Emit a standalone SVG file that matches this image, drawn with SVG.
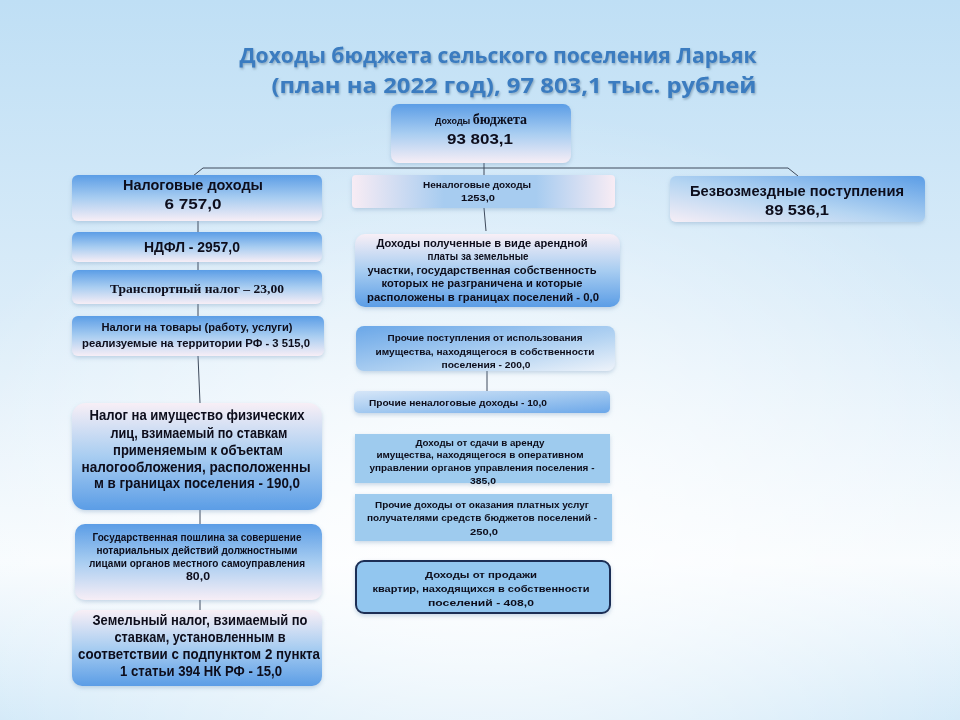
<svg xmlns="http://www.w3.org/2000/svg" width="960" height="720" viewBox="0 0 960 720">
<defs>
  <linearGradient id="bg" x1="0" y1="0" x2="0" y2="1">
    <stop offset="0" stop-color="#bfdff5"/>
    <stop offset="0.45" stop-color="#dcedf9"/>
    <stop offset="0.78" stop-color="#f7fbfe"/>
    <stop offset="1" stop-color="#d2e9f8"/>
  </linearGradient>
  <radialGradient id="bgGlow" cx="0.5" cy="0.75" r="0.6">
    <stop offset="0" stop-color="#ffffff" stop-opacity="0.9"/>
    <stop offset="1" stop-color="#ffffff" stop-opacity="0"/>
  </radialGradient>
  <linearGradient id="gTop" x1="0" y1="0" x2="0" y2="1">
    <stop offset="0" stop-color="#5b9de6"/>
    <stop offset="0.5" stop-color="#a8cdf1"/>
    <stop offset="1" stop-color="#f7eef6"/>
  </linearGradient>
  <linearGradient id="gBot" x1="0" y1="0" x2="0" y2="1">
    <stop offset="0" stop-color="#f8eff6"/>
    <stop offset="0.5" stop-color="#a8cdf1"/>
    <stop offset="1" stop-color="#5b9de6"/>
  </linearGradient>
  <linearGradient id="gH" x1="0" y1="0" x2="1" y2="0">
    <stop offset="0" stop-color="#f8ecf4"/>
    <stop offset="0.35" stop-color="#a7ccf0"/>
    <stop offset="0.7" stop-color="#a7ccf0"/>
    <stop offset="1" stop-color="#f8ecf4"/>
  </linearGradient>
  <linearGradient id="gLR" x1="0" y1="0" x2="1" y2="1">
    <stop offset="0" stop-color="#d6e6f8"/>
    <stop offset="0.5" stop-color="#a3c9f0"/>
    <stop offset="1" stop-color="#6ba7e9"/>
  </linearGradient>
  <linearGradient id="gDiag" x1="1" y1="0" x2="0" y2="1">
    <stop offset="0" stop-color="#5b9de6"/>
    <stop offset="0.55" stop-color="#b5d5f2"/>
    <stop offset="1" stop-color="#f6eef6"/>
  </linearGradient>
  <linearGradient id="gLeft" x1="0" y1="0" x2="1" y2="1">
    <stop offset="0" stop-color="#6aa7e8"/>
    <stop offset="0.6" stop-color="#b3d3f2"/>
    <stop offset="1" stop-color="#eef3fa"/>
  </linearGradient>
  <filter id="sh" x="-10%" y="-10%" width="120%" height="130%">
    <feDropShadow dx="0" dy="2" stdDeviation="2" flood-color="#6d93b8" flood-opacity="0.35"/>
  </filter>
  <filter id="tsh" x="-5%" y="-20%" width="110%" height="150%">
    <feDropShadow dx="1" dy="1.5" stdDeviation="0.8" flood-color="#5f7f98" flood-opacity="0.6"/>
  </filter>
</defs>
<style>
  .t { font-family: "Liberation Sans", Arial, sans-serif; font-weight: bold; fill: #0d0d1a; }
  .c { text-anchor: middle; }
  .s { font-family: "Liberation Serif", "Times New Roman", serif; font-weight: bold; fill: #0d0d1a; }
  .title { font-family: "Open Sans", "Liberation Sans", sans-serif; font-weight: bold; font-size: 21px; fill: #3a7cc0; text-anchor: middle; }
  .conn { stroke: #3e4a5c; stroke-width: 1; fill: none; }
  .box { filter: url(#sh); }
</style>

<rect width="960" height="720" fill="url(#bg)"/>
<rect width="960" height="720" fill="url(#bgGlow)"/>

<g id="title" filter="url(#tsh)">
  <text class="title" x="498" y="63" textLength="517" lengthAdjust="spacingAndGlyphs">Доходы бюджета сельского поселения  Ларьяк</text>
  <text class="title" x="514" y="93" textLength="485" lengthAdjust="spacingAndGlyphs">(план на 2022 год),  97 803,1 тыс. рублей</text>
</g>

<g id="connectors">
  <path class="conn" d="M484 162 L484 168"/>
  <path class="conn" d="M193 176 L203 168 L788 168 L798 176"/>
  <path class="conn" d="M484 168 L484 176"/>
  <path class="conn" d="M198 221 L198 232"/>
  <path class="conn" d="M198 262 L198 270"/>
  <path class="conn" d="M198 304 L198 316"/>
  <path class="conn" d="M198 356 L200 403"/>
  <path class="conn" d="M200 510 L200 524"/>
  <path class="conn" d="M200 600 L200 610"/>
  <path class="conn" d="M484 208 L486 231"/>
  <path class="conn" d="M487 371 L487 391"/>
</g>

<g id="n-root" class="box">
  <rect x="391" y="104" width="180" height="59" rx="8" fill="url(#gTop)"/>
  <text class="c" x="481" y="124"><tspan class="t" font-size="9">Доходы </tspan><tspan class="s" font-size="14">бюджета</tspan></text>
  <text class="t c" x="480" y="144" font-size="15" textLength="66" lengthAdjust="spacingAndGlyphs">93 803,1</text>
</g>

<g id="n-tax" class="box">
  <rect x="72" y="175" width="250" height="46" rx="6" fill="url(#gTop)"/>
  <text class="t c" x="193" y="190" font-size="14" textLength="140" lengthAdjust="spacingAndGlyphs">Налоговые доходы</text>
  <text class="t c" x="193" y="209" font-size="15" textLength="57" lengthAdjust="spacingAndGlyphs">6 757,0</text>
</g>

<g id="n-ndfl" class="box">
  <rect x="72" y="232" width="250" height="30" rx="6" fill="url(#gTop)"/>
  <text class="t c" x="192" y="252" font-size="14" textLength="96" lengthAdjust="spacingAndGlyphs">НДФЛ - 2957,0</text>
</g>

<g id="n-transport" class="box">
  <rect x="72" y="270" width="250" height="34" rx="6" fill="url(#gTop)"/>
  <text class="s c" x="197" y="293" font-size="13" textLength="174" lengthAdjust="spacingAndGlyphs">Транспортный  налог – 23,00</text>
</g>

<g id="n-goods" class="box">
  <rect x="72" y="316" width="252" height="40" rx="6" fill="url(#gTop)"/>
  <text class="t c" x="197" y="331" font-size="11" textLength="191" lengthAdjust="spacingAndGlyphs">Налоги на товары  (работу,  услуги)</text>
  <text class="t c" x="196" y="347" font-size="11" textLength="228" lengthAdjust="spacingAndGlyphs">реализуемые на территории РФ - 3 515,0</text>
</g>

<g id="n-property" class="box">
  <rect x="72" y="403" width="250" height="107" rx="14" fill="url(#gBot)"/>
  <text class="t c" x="197" y="420" font-size="14" textLength="215" lengthAdjust="spacingAndGlyphs">Налог на имущество физических</text>
  <text class="t c" x="199" y="438" font-size="14" textLength="177" lengthAdjust="spacingAndGlyphs">лиц, взимаемый по ставкам</text>
  <text class="t c" x="198" y="455" font-size="14" textLength="170" lengthAdjust="spacingAndGlyphs">применяемым к объектам</text>
  <text class="t c" x="196" y="472" font-size="14" textLength="229" lengthAdjust="spacingAndGlyphs">налогообложения, расположенны</text>
  <text class="t c" x="197" y="488" font-size="14" textLength="206" lengthAdjust="spacingAndGlyphs">м в границах поселения - 190,0</text>
</g>

<g id="n-duty" class="box">
  <rect x="75" y="524" width="247" height="76" rx="10" fill="url(#gTop)"/>
  <text class="t c" x="197" y="541" font-size="10" textLength="209" lengthAdjust="spacingAndGlyphs">Государственная пошлина за совершение</text>
  <text class="t c" x="197" y="554" font-size="10" textLength="201" lengthAdjust="spacingAndGlyphs">нотариальных действий должностными</text>
  <text class="t c" x="197" y="567" font-size="10" textLength="216" lengthAdjust="spacingAndGlyphs">лицами органов местного самоуправления</text>
  <text class="t c" x="198" y="580" font-size="10" textLength="24" lengthAdjust="spacingAndGlyphs">80,0</text>
</g>

<g id="n-land" class="box">
  <rect x="72" y="610" width="250" height="76" rx="10" fill="url(#gBot)"/>
  <text class="t c" x="200" y="625" font-size="14" textLength="215" lengthAdjust="spacingAndGlyphs">Земельный налог, взимаемый по</text>
  <text class="t c" x="200" y="642" font-size="14" textLength="171" lengthAdjust="spacingAndGlyphs">ставкам, установленным в</text>
  <text class="t c" x="199" y="659" font-size="14" textLength="242" lengthAdjust="spacingAndGlyphs">соответствии с подпунктом 2 пункта</text>
  <text class="t c" x="201" y="676" font-size="14" textLength="162" lengthAdjust="spacingAndGlyphs">1 статьи 394 НК РФ - 15,0</text>
</g>

<g id="n-nontax" class="box">
  <rect x="352" y="175" width="263" height="33" rx="4" fill="url(#gH)"/>
  <text class="t c" x="477" y="188" font-size="9" textLength="108" lengthAdjust="spacingAndGlyphs">Неналоговые доходы</text>
  <text class="t c" x="478" y="201" font-size="9" textLength="34" lengthAdjust="spacingAndGlyphs">1253,0</text>
</g>

<g id="n-rent-land" class="box">
  <rect x="355" y="234" width="265" height="73" rx="10" fill="url(#gBot)"/>
  <text class="t c" x="482" y="247" font-size="10.5" textLength="211" lengthAdjust="spacingAndGlyphs">Доходы полученные в виде арендной</text>
  <text class="t c" x="478" y="260" font-size="10.5" textLength="101" lengthAdjust="spacingAndGlyphs">платы за земельные</text>
  <text class="t c" x="482" y="274" font-size="10.5" textLength="229" lengthAdjust="spacingAndGlyphs">участки, государственная собственность</text>
  <text class="t c" x="482" y="287" font-size="10.5" textLength="201" lengthAdjust="spacingAndGlyphs">которых не разграничена и которые</text>
  <text class="t c" x="483" y="301" font-size="10.5" textLength="232" lengthAdjust="spacingAndGlyphs">расположены в границах поселений - 0,0</text>
</g>

<g id="n-other-use" class="box">
  <rect x="356" y="326" width="259" height="45" rx="8" fill="url(#gLeft)"/>
  <text class="t c" x="485" y="341" font-size="9.5" textLength="195" lengthAdjust="spacingAndGlyphs">Прочие поступления от использования</text>
  <text class="t c" x="485" y="355" font-size="9.5" textLength="219" lengthAdjust="spacingAndGlyphs">имущества, находящегося в собственности</text>
  <text class="t c" x="486" y="368" font-size="9.5" textLength="89" lengthAdjust="spacingAndGlyphs">поселения - 200,0</text>
</g>

<g id="n-other-nontax" class="box">
  <rect x="354" y="391" width="256" height="22" rx="5" fill="url(#gLR)"/>
  <text class="t" x="369" y="406" font-size="9.5" textLength="178" lengthAdjust="spacingAndGlyphs">Прочие неналоговые доходы - 10,0</text>
</g>

<g id="n-lease" class="box">
  <rect x="355" y="434" width="255" height="49" fill="#9ecbee"/>
  <text class="t c" x="480" y="446" font-size="9.5" textLength="129" lengthAdjust="spacingAndGlyphs">Доходы от сдачи в аренду</text>
  <text class="t c" x="480" y="458" font-size="9.5" textLength="207" lengthAdjust="spacingAndGlyphs">имущества, находящегося в оперативном</text>
  <text class="t c" x="482" y="471" font-size="9.5" textLength="225" lengthAdjust="spacingAndGlyphs">управлении органов управления поселения -</text>
  <text class="t c" x="483" y="484" font-size="9.5" textLength="26" lengthAdjust="spacingAndGlyphs">385,0</text>
</g>

<g id="n-services" class="box">
  <rect x="355" y="494" width="257" height="47" fill="#9ecbee"/>
  <text class="t c" x="482" y="508" font-size="9.5" textLength="214" lengthAdjust="spacingAndGlyphs">Прочие доходы от оказания платных услуг</text>
  <text class="t c" x="482" y="521" font-size="9.5" textLength="230" lengthAdjust="spacingAndGlyphs">получателями средств бюджетов поселений -</text>
  <text class="t c" x="484" y="535" font-size="9.5" textLength="28" lengthAdjust="spacingAndGlyphs">250,0</text>
</g>

<g id="n-sale" class="box">
  <rect x="356" y="561" width="254" height="52" rx="8" fill="#92c6ef" stroke="#1b2f55" stroke-width="2"/>
  <text class="t c" x="481" y="578" font-size="9.5" textLength="112" lengthAdjust="spacingAndGlyphs">Доходы  от  продажи</text>
  <text class="t c" x="481" y="592" font-size="9.5" textLength="217" lengthAdjust="spacingAndGlyphs">квартир, находящихся  в  собственности</text>
  <text class="t c" x="481" y="606" font-size="9.5" textLength="106" lengthAdjust="spacingAndGlyphs">поселений - 408,0</text>
</g>

<g id="n-free" class="box">
  <rect x="670" y="176" width="255" height="46" rx="6" fill="url(#gDiag)"/>
  <text class="t c" x="797" y="196" font-size="15" textLength="214" lengthAdjust="spacingAndGlyphs">Безвозмездные поступления</text>
  <text class="t c" x="797" y="215" font-size="15" textLength="64" lengthAdjust="spacingAndGlyphs">89 536,1</text>
</g>
</svg>
